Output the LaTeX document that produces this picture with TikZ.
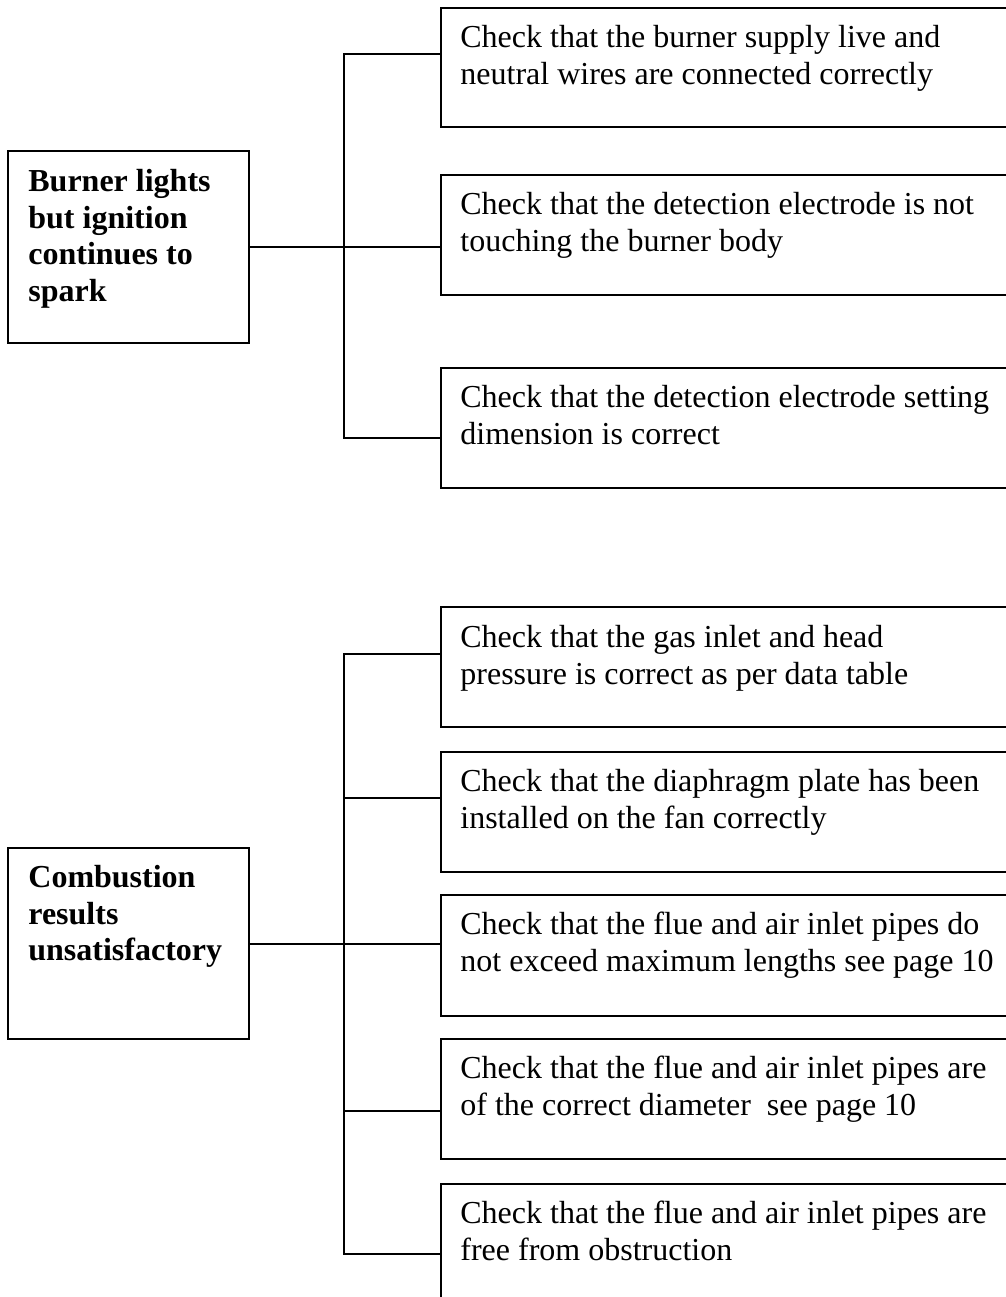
\documentclass[tikz,border=0pt]{standalone}
\usepackage{fontspec}
\setmainfont{Liberation Serif}
\usetikzlibrary{calc}
\begin{document}
\def\u{0.5pt}
\begin{tikzpicture}[x=0.5pt,y=-0.5pt,
  box/.style={draw, line width=1pt, inner sep=0pt, anchor=north west},
  leftbox/.style={box, minimum width={241*\u}},
  rightbox/.style={box, minimum width={620*\u}},
  txt/.style={anchor=north west, inner sep=0pt, align=left, font=\fontsize{16}{18.35}\selectfont},
  btxt/.style={txt, font=\fontsize{16}{18.35}\selectfont\bfseries},
  conn/.style={draw, line width=1pt}]
\clip (0,0) rectangle (1006,1297);

% ---------- top group ----------
\node[leftbox, minimum height={192*\u}] (L1) at (7,150) {};
\node[rightbox, minimum height={119*\u}] (R1) at (440,7) {};
\node[rightbox, minimum height={120*\u}] (R2) at (440,174) {};
\node[rightbox, minimum height={120*\u}] (R3) at (440,367) {};

\node[btxt] (tL1) at ($(L1.north west)+(21,15.3)$) {\strut Burner lights\\but ignition\\continues to\\spark};
\node[txt] (tR1) at ($(R1.north west)+(20,14.3)$) {\strut Check that the burner supply live and\\neutral wires are connected correctly};
\node[txt] (tR2) at ($(R2.north west)+(20,14.3)$) {\strut Check that the detection electrode is not\\touching the burner body};
\node[txt] (tR3) at ($(R3.north west)+(20,14.3)$) {\strut Check that the detection electrode setting\\dimension is correct};

\coordinate (ja) at (344,54);
\coordinate (jb) at (344,438);
\draw[conn] (L1.east) -- (L1.east -| R2.west);
\draw[conn] (ja -| R1.west) -- (ja) -- (jb) -- (jb -| R3.west);

% ---------- bottom group ----------
\node[leftbox, minimum height={191*\u}] (L2) at (7,847) {};
\node[rightbox, minimum height={120*\u}] (S1) at (440,606) {};
\node[rightbox, minimum height={120*\u}] (S2) at (440,751) {};
\node[rightbox, minimum height={121*\u}] (S3) at (440,894) {};
\node[rightbox, minimum height={120*\u}] (S4) at (440,1038) {};
\node[rightbox, minimum height={120*\u}] (S5) at (440,1183) {};

\node[btxt] (tL2) at ($(L2.north west)+(21,14.3)$) {\strut Combustion\\results\\unsatisfactory};
\node[txt] (tS1) at ($(S1.north west)+(20,15.3)$) {\strut Check that the gas inlet and head\\pressure is correct as per data table};
\node[txt] (tS2) at ($(S2.north west)+(20,14.3)$) {\strut Check that the diaphragm plate has been\\installed on the fan correctly};
\node[txt] (tS3) at ($(S3.north west)+(20,14.3)$) {\strut Check that the flue and air inlet pipes do\\not exceed maximum lengths see page 10};
\node[txt] (tS4) at ($(S4.north west)+(20,14.3)$) {\strut Check that the flue and air inlet pipes are\\of the correct diameter\ \ see page 10};
\node[txt] (tS5) at ($(S5.north west)+(20,14.3)$) {\strut Check that the flue and air inlet pipes are\\free from obstruction};

\coordinate (jc) at (344,654);
\coordinate (jd) at (344,798);
\coordinate (je) at (344,1111);
\coordinate (jf) at (344,1254);
\draw[conn] (L2.east) -- (L2.east -| S3.west);
\draw[conn] (jc -| S1.west) -- (jc) -- (jf) -- (jf -| S5.west);
\draw[conn] (jd) -- (jd -| S2.west);
\draw[conn] (je) -- (je -| S4.west);
\end{tikzpicture}
\end{document}
